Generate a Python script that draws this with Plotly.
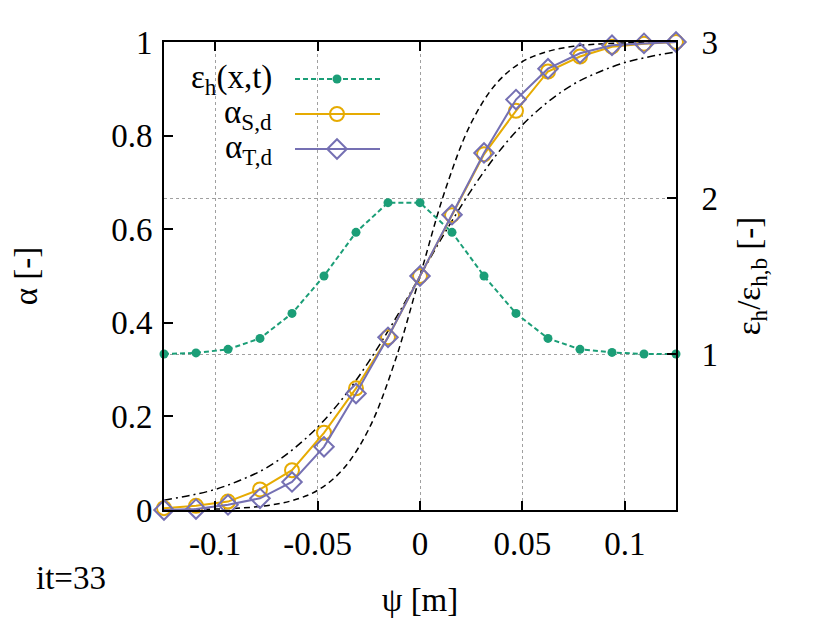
import plotly.graph_objects as go

# grid positions psi [m]
psi = [-0.125, -0.109375, -0.09375, -0.078125, -0.0625, -0.046875, -0.03125, -0.015625, 0.0,
       0.015625, 0.03125, 0.046875, 0.0625, 0.078125, 0.09375, 0.109375, 0.125]

# eps_h / eps_h,b (right axis)
eps_ratio = [1.00, 1.007, 1.03, 1.10, 1.26, 1.50, 1.78, 1.97, 1.97,
             1.78, 1.50, 1.26, 1.10, 1.03, 1.01, 1.00, 1.00]

# volume fractions (left axis)
alpha_S = [0.004, 0.009, 0.018, 0.044, 0.085, 0.165, 0.260, 0.369, 0.500,
           0.630, 0.760, 0.853, 0.937, 0.969, 0.990, 0.996, 1.000]
alpha_T = [0.000, 0.002, 0.011, 0.025, 0.060, 0.135, 0.249, 0.369, 0.500,
           0.631, 0.763, 0.877, 0.943, 0.976, 0.993, 0.997, 1.000]

# black reference profiles
psi_ref = [-0.125, -0.1125, -0.1, -0.0875, -0.075, -0.0625, -0.05, -0.0375, -0.025, -0.0125, 0.0,
           0.0125, 0.025, 0.0375, 0.05, 0.0625, 0.075, 0.0875, 0.1, 0.1125, 0.125]
ref_sharp = [0.0004, 0.0009, 0.0019, 0.0042, 0.0092, 0.020, 0.042, 0.0875, 0.173, 0.314, 0.500,
             0.686, 0.827, 0.9125, 0.958, 0.980, 0.9908, 0.9958, 0.9981, 0.9991, 0.9996]
ref_wide = [0.021, 0.031, 0.044, 0.064, 0.090, 0.128, 0.177, 0.240, 0.317, 0.405, 0.500,
            0.595, 0.683, 0.760, 0.823, 0.872, 0.910, 0.936, 0.956, 0.969, 0.979]

x_ticks = [-0.1, -0.05, 0, 0.05, 0.1]
x_ticktext = ["-0.1", "-0.05", "0", "0.05", "0.1"]

GREEN = "#1b9e77"
YELLOW = "#e6ab02"
PURPLE = "#7570b3"
FONT = "Liberation Serif, Times New Roman, serif"
FS = 33

# the page adds an 8px body margin, so the figure is 8px smaller than the window
W, H = 822, 615
L, T = 156, 34
PW, PH = 512, 468
R, B = W - L - PW, H - T - PH
# plot box in window pixels, used for the legend key frame
X0, X1, Y0, Y1 = 164, 676, 42, 510

fig = go.Figure()

fig.add_trace(go.Scatter(
    x=psi, y=eps_ratio, mode="lines+markers", yaxis="y", cliponaxis=False,
    line=dict(color=GREEN, width=2, dash="5px,3px"),
    marker=dict(color=GREEN, size=9, symbol="circle"),
))
fig.add_trace(go.Scatter(
    x=psi_ref, y=ref_sharp, mode="lines", yaxis="y2", line_shape="spline",
    line=dict(color="black", width=1.5, dash="6px,4px"),
))
fig.add_trace(go.Scatter(
    x=psi_ref, y=ref_wide, mode="lines", yaxis="y2", line_shape="spline",
    line=dict(color="black", width=1.5, dash="8px,4px,2px,4px"),
))
fig.add_trace(go.Scatter(
    x=psi, y=alpha_S, mode="lines+markers", yaxis="y2", cliponaxis=False,
    line=dict(color=YELLOW, width=2),
    marker=dict(color=YELLOW, size=14, symbol="circle-open", line=dict(width=2)),
))
fig.add_trace(go.Scatter(
    x=psi, y=alpha_T, mode="lines+markers", yaxis="y2", cliponaxis=False,
    line=dict(color=PURPLE, width=2),
    marker=dict(color=PURPLE, size=15, symbol="diamond-open", line=dict(width=2)),
))

# legend key, drawn in a hidden pixel frame over the plot area
legend_rows = [
    ("ε<sub>h</sub>(x,t)", GREEN, "5px,3px", dict(color=GREEN, size=9, symbol="circle")),
    ("α<sub>S,d</sub>", YELLOW, "solid", dict(color=YELLOW, size=14, symbol="circle-open", line=dict(width=2))),
    ("α<sub>T,d</sub>", PURPLE, "solid", dict(color=PURPLE, size=15, symbol="diamond-open", line=dict(width=2))),
]
row_y = [79, 114, 149]
for (label, color, dash, marker), py in zip(legend_rows, row_y):
    fig.add_trace(go.Scatter(
        x=[295, 380], y=[py, py], mode="lines", xaxis="x3", yaxis="y3",
        line=dict(color=color, width=2, dash=dash), hoverinfo="skip",
    ))
    fig.add_trace(go.Scatter(
        x=[337], y=[py], mode="markers", xaxis="x3", yaxis="y3", marker=marker, hoverinfo="skip",
    ))
    fig.add_annotation(
        x=274, y=py, xref="x3", yref="y3", text=label, showarrow=False,
        xanchor="right", yanchor="middle", font=dict(family=FONT, size=FS, color="black"),
    )

fig.add_annotation(
    x=(34 - X0) / PW, y=(Y1 - 578) / PH, xref="paper", yref="paper", text="it=33", showarrow=False,
    xanchor="left", yanchor="middle", font=dict(family=FONT, size=FS, color="black"),
)

axis_common = dict(
    showline=True, linecolor="black", linewidth=2,
    ticks="inside", ticklen=9, tickwidth=1.5, tickcolor="black",
    tickfont=dict(family=FONT, size=FS, color="black"),
    zeroline=False,
)

fig.update_layout(
    width=W, height=H, autosize=False,
    margin=dict(l=L, r=R, t=T, b=B),
    paper_bgcolor="white", plot_bgcolor="white",
    showlegend=False,
    font=dict(family=FONT, size=FS, color="black"),
    xaxis=dict(
        range=[-0.125, 0.125], tickvals=x_ticks, ticktext=x_ticktext,
        showgrid=True, gridcolor="#a0a0a0", griddash="dot", gridwidth=1,
        mirror="ticks", ticklabelstandoff=3,
        title=dict(text="ψ [m]", standoff=27, font=dict(family=FONT, size=FS)),
        **axis_common,
    ),
    yaxis=dict(
        range=[0, 3], tickvals=[1, 2, 3], side="right",
        showgrid=True, gridcolor="#a0a0a0", griddash="dot", gridwidth=1,
        ticklabelstandoff=17,
        title=dict(text="ε<sub>h</sub>/ε<sub>h,b</sub> [-]", standoff=20, font=dict(family=FONT, size=FS)),
        **axis_common,
    ),
    yaxis2=dict(
        range=[0, 1], dtick=0.2, side="left", overlaying="y", showgrid=False,
        ticklabelstandoff=3,
        title=dict(text="α [-]", standoff=64, font=dict(family=FONT, size=FS)),
        **axis_common,
    ),
    xaxis3=dict(range=[X0, X1], overlaying="x", visible=False, anchor="y3"),
    yaxis3=dict(range=[Y1, Y0], overlaying="y", visible=False, anchor="x3"),
)

fig.write_html("out.html")
